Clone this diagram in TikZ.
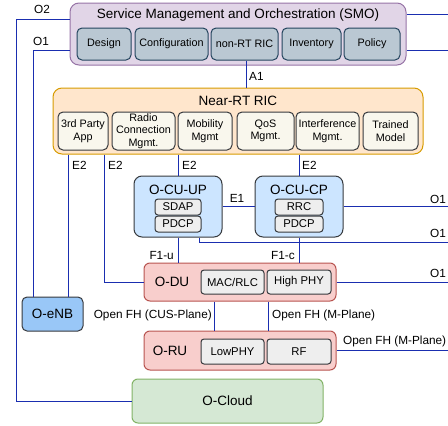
\documentclass[tikz,border=0pt]{standalone}
\usepackage{fontspec}
\setmainfont{Liberation Sans}
\definecolor{smofill}{HTML}{E1D5E7}
\definecolor{smodraw}{HTML}{9673A6}
\definecolor{smoinfill}{HTML}{BAC8D3}
\definecolor{smoindraw}{HTML}{23445D}
\definecolor{nrtfill}{HTML}{FFE6CC}
\definecolor{nrtdraw}{HTML}{D79B00}
\definecolor{nrtinfill}{HTML}{F9F7ED}
\definecolor{graydraw}{HTML}{36393D}
\definecolor{cufill}{HTML}{CCE5FF}
\definecolor{grayfill}{HTML}{EEEEEE}
\definecolor{dufill}{HTML}{F8CECC}
\definecolor{dudraw}{HTML}{B85450}
\definecolor{cloudfill}{HTML}{D5E8D4}
\definecolor{clouddraw}{HTML}{82B366}
\definecolor{enbfill}{HTML}{99C7F7}
\definecolor{linkc}{HTML}{1A2EB0}
\newcommand\bigf{\fontsize{13.5}{15}\selectfont}
\newcommand\medf{\fontsize{11.8}{13.5}\selectfont}
\newcommand\innf{\fontsize{11.3}{13}\selectfont}
\newcommand\smf{\fontsize{10.8}{12.5}\selectfont}
\tikzset{
  wh/.style 2 args={minimum width=#1pt, minimum height=#2pt},
  base/.style={rectangle, rounded corners=5pt, line width=1pt, inner sep=0pt, align=center},
  smobox/.style={base, rounded corners=9pt, fill=smofill, draw=smodraw},
  smoin/.style={base, fill=smoinfill, draw=smoindraw, font=\smf},
  nrtbox/.style={base, rounded corners=9pt, fill=nrtfill, draw=nrtdraw},
  nrtin/.style={base, fill=nrtinfill, draw=graydraw, font=\smf},
  cubox/.style={base, rounded corners=8pt, fill=cufill, draw=graydraw},
  grayin/.style={base, rounded corners=3pt, fill=grayfill, draw=graydraw, font=\innf},
  dubox/.style={base, rounded corners=6pt, fill=dufill, draw=dudraw},
  cloudbox/.style={base, rounded corners=6pt, fill=cloudfill, draw=clouddraw, font=\bigf},
  enbbox/.style={base, rounded corners=5pt, fill=enbfill, draw=graydraw, font=\bigf},
  bigt/.style={font=\bigf, inner sep=0pt},
  lab/.style={font=\medf, inner sep=0pt},
  link/.style={draw=linkc, line width=1pt},
}
\begin{document}
\begin{tikzpicture}[x=1pt,y=-1pt]
\useasboundingbox (0,0) rectangle (448,426);
% SMO
\node[smobox, wh={336}{62}] (smo) at (238,34) {};
\node[bigt] (smot) at (238,15) {Service Management and Orchestration (SMO)};
\node[smoin, wh={54}{32}] (design) at (104,44) {Design};
\node[smoin, wh={73}{32}] (config) at (171.5,44) {Configuration};
\node[smoin, wh={67}{32}] (nonrt) at (244.5,44) {non-RT RIC};
\node[smoin, wh={59}{32}] (inv) at (311.5,44) {Inventory};
\node[smoin, wh={56}{32}] (policy) at (372,44) {Policy};
% Near-RT RIC
\node[nrtbox, wh={370}{66}] (nrt) at (238,121) {};
\node[bigt] (nrtt) at (238,101) {Near-RT RIC};
\node[nrtin, wh={50}{38}] (third) at (83,131) {3rd Party\\App};
\node[nrtin, wh={63}{38}] (radio) at (143.5,131) {Radio\\Connection\\Mgmt.};
\node[nrtin, wh={54}{38}] (mob) at (205,131) {Mobility\\Mgmt};
\node[nrtin, wh={57}{38}] (qos) at (265.5,131) {QoS\\Mgmt.};
\node[nrtin, wh={63}{38}] (intf) at (327.5,131) {Interference\\Mgmt.};
\node[nrtin, wh={55}{38}] (trained) at (390.5,131) {Trained\\Model};
% CU
\node[cubox, wh={88}{61}] (cuup) at (178,206.5) {};
\node[bigt] (cuupt) at (178,190) {O-CU-UP};
\node[grayin, wh={46}{16}] (sdap) at (178,207) {SDAP};
\node[grayin, wh={46}{16}] (pdcpu) at (178,224) {PDCP};
\node[cubox, wh={88}{61}] (cucp) at (299,206.5) {};
\node[bigt] (cucpt) at (299,190) {O-CU-CP};
\node[grayin, wh={48}{16}] (rrc) at (299,207) {RRC};
\node[grayin, wh={48}{16}] (pdcpc) at (299,224) {PDCP};
% DU
\node[dubox, wh={192}{38}] (odu) at (240,282) {};
\node[bigt] (odut) at (172,282) {O-DU};
\node[grayin, wh={63}{24}] (mac) at (232.5,282) {MAC/RLC};
\node[grayin, wh={64}{24}] (hphy) at (299,282) {High PHY};
% RU
\node[dubox, wh={192}{39}] (oru) at (240,350.5) {};
\node[bigt] (orut) at (170,351) {O-RU};
\node[grayin, wh={63}{25}] (lphy) at (232.5,351.5) {LowPHY};
\node[grayin, wh={64}{25}] (rf) at (299,351.5) {RF};
% Cloud, eNB
\node[cloudbox, wh={191}{44}] (cloud) at (227.5,401) {O-Cloud};
\node[enbbox, wh={61}{34}] (enb) at (52.5,314) {O-eNB};
% helper coordinates
\coordinate (xo2) at (16,0);
\coordinate (xo1) at (33,0);
\coordinate (xe1) at (68,0);
\coordinate (xe2) at (104,0);
\coordinate (xup) at (199,0);
\coordinate (xfh1) at (214,0);
\coordinate (xfh2) at (268,0);
\coordinate (xa1) at (246,0);
\coordinate (rO2) at (448,14);
\coordinate (rO1) at (448,50);
\coordinate (rcp) at (448,206);
\coordinate (rup) at (448,242);
\coordinate (rdu) at (448,282);
\coordinate (rru) at (448,350);
% connectors
\draw[link] ([yshift=15pt]smo.west) -| (xo2 |- cloud.west) -- (cloud.west);
\draw[link] ([yshift=-16pt]smo.west) -| (xo1 |- enb.north);
\draw[link] ([yshift=20pt]smo.east) -- (rO2);
\draw[link] ([yshift=-16pt]smo.east) -- (rO1);
\draw[link] (xa1 |- nonrt.south) -- (xa1 |- nrt.north);
\draw[link] (xe1 |- nrt.south) -- (xe1 |- enb.north);
\draw[link] (xe2 |- nrt.south) |- (odu.west);
\draw[link] (cuup.north |- nrt.south) -- (cuup.north);
\draw[link] (cucp.north |- nrt.south) -- (cucp.north);
\draw[link] (cuup.east) -- (cucp.west);
\draw[link] (cucp.east) -- (rcp |- cucp.east);
\draw[link] (xup |- cuup.south) |- (rup);
\draw[link] (cuup.south) -- (cuup.south |- odu.north);
\draw[link] (cucp.south) -- (cucp.south |- odu.north);
\draw[link] (odu.east) -- (rdu |- odu.east);
\draw[link] (xfh1 |- odu.south) -- (xfh1 |- oru.north);
\draw[link] (xfh2 |- odu.south) -- (xfh2 |- oru.north);
\draw[link] (rru -| oru.east) -- (rru);
% labels
\node[lab] (lo2) at (42,9) {O2};
\node[lab] (lo1) at (41,41) {O1};
\node[lab, anchor=west] (la1) at (249,76) {A1};
\node[lab, anchor=west] (le2a) at (72,165) {E2};
\node[lab, anchor=west] (le2b) at (108,165) {E2};
\node[lab, anchor=west] (le2c) at (182,165) {E2};
\node[lab, anchor=west] (le2d) at (302,165) {E2};
\node[lab] (le1) at (237,198) {E1};
\node[lab] (lo1a) at (438,199) {O1};
\node[lab] (lo1b) at (438,233) {O1};
\node[lab] (lo1c) at (438,273) {O1};
\node[lab, anchor=east] (lf1u) at (174,255) {F1-u};
\node[lab, anchor=east] (lf1c) at (295,255) {F1-c};
\node[lab, anchor=east] (lfh1) at (212,315) {Open FH (CUS-Plane)};
\node[lab, anchor=west] (lfh2) at (272,315) {Open FH (M-Plane)};
\node[lab, anchor=west] (lfh3) at (343,341) {Open FH (M-Plane)};
\end{tikzpicture}
\end{document}
